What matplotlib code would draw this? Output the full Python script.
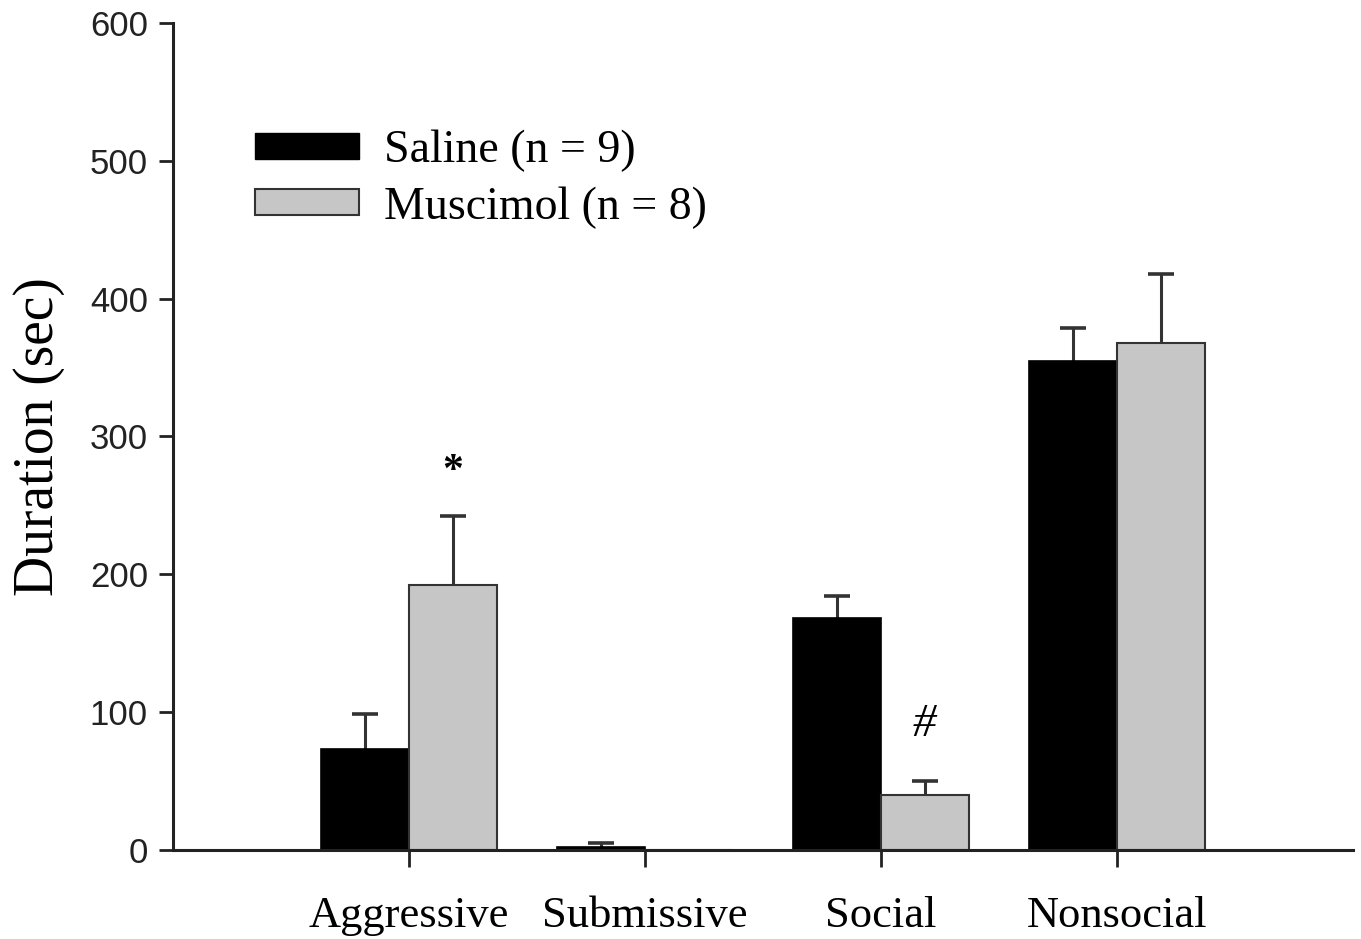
import matplotlib.pyplot as plt
import numpy as np
from matplotlib.patches import Patch

# behaviour categories and group means / SEM (sec)
categories = ["Aggressive", "Submissive", "Social", "Nonsocial"]
saline_mean = [73, 2, 168, 355]
saline_sem = [26, 3, 16, 24]
muscimol_mean = [192, 0, 40, 368]
muscimol_sem = [50, 0, 10, 50]

fig = plt.figure(figsize=(13.61, 9.39), dpi=100)
ax = fig.add_axes([0.1271, 0.0948, 0.867, 0.8807])

x = np.arange(1, len(categories) + 1)
w = 0.372
cap = 0.055


def upper_err(xpos, mean, sem):
    # one-sided (upward) error bars with a cap
    mean = np.asarray(mean)
    top = mean + np.asarray(sem)
    keep = np.asarray(sem) > 0
    ax.vlines(xpos[keep], mean[keep], top[keep], color='#333333', lw=2.2, zorder=1)
    ax.hlines(top[keep], xpos[keep] - cap, xpos[keep] + cap, color='#333333',
              lw=2.6, zorder=1)


upper_err(x - w / 2, saline_mean, saline_sem)
upper_err(x + w / 2, muscimol_mean, muscimol_sem)
ax.bar(x - w / 2, saline_mean, w, color='black', edgecolor='black', linewidth=1.2, zorder=2)
ax.bar(x + w / 2, muscimol_mean, w, color='#c6c6c6', edgecolor='#333333', linewidth=1.5,
       zorder=2)

# significance marks
ax.text(x[0] + w / 2, 274, "*", ha='center', va='center', fontsize=30,
        fontweight='bold', family='Liberation Serif')
ax.text(x[2] + w / 2, 91, "#", ha='center', va='center', fontsize=34,
        style='italic', family='Liberation Serif')

ax.set_xlim(0, 5)
ax.set_ylim(0, 600)
ax.set_yticks(range(0, 601, 100))
ax.set_xticks(x)
ax.set_xticklabels(categories, family='Liberation Serif', fontsize=32)
ax.tick_params(axis='y', labelsize=25, length=10, width=2, colors='#222222', pad=8)
ax.tick_params(axis='x', length=12, width=2, colors='#222222', pad=21)
for lbl in ax.get_yticklabels():
    lbl.set_family('Liberation Sans')
for lbl in ax.get_xticklabels():
    lbl.set_color('black')

ax.spines['top'].set_visible(False)
ax.spines['right'].set_visible(False)
ax.spines['left'].set_linewidth(2.2)
ax.spines['bottom'].set_linewidth(2.2)
ax.spines['left'].set_color('#222222')
ax.spines['bottom'].set_color('#222222')

ax.set_ylabel("Duration (sec)", family='Liberation Serif', fontsize=40, labelpad=18)

handles = [Patch(facecolor='black', edgecolor='black', label='Saline (n = 9)'),
           Patch(facecolor='#c6c6c6', edgecolor='#333333', linewidth=1.5,
                 label='Muscimol (n = 8)')]
ax.legend(handles=handles, loc='upper left', bbox_to_anchor=(0.054, 0.893),
          frameon=False, prop={'family': 'Liberation Serif', 'size': 33},
          handlelength=2.27, handleheight=0.5, handletextpad=0.55, labelspacing=0.3,
          borderaxespad=0)

fig.savefig("out.png", dpi=100)
